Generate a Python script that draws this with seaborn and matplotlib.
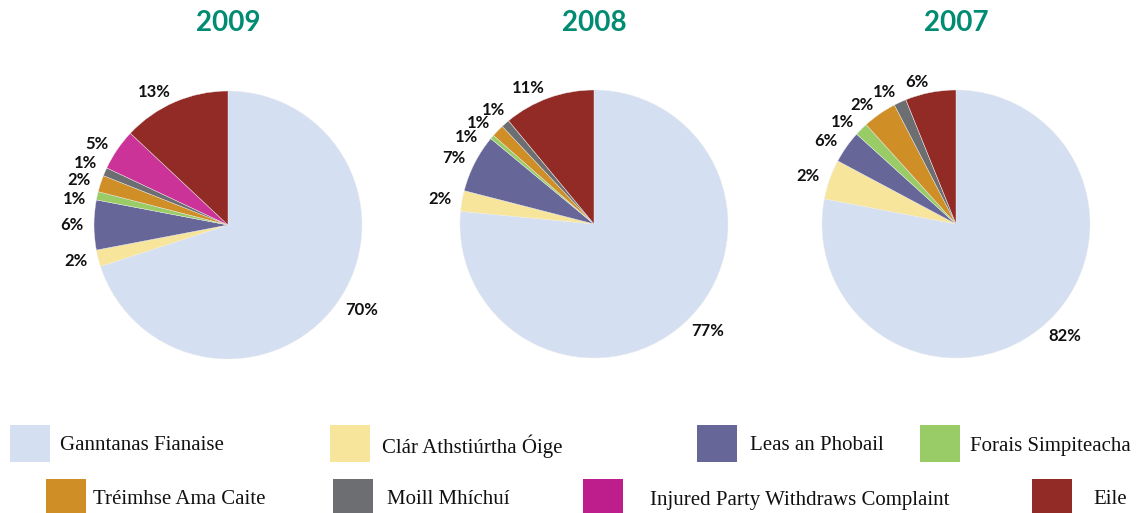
import numpy as np
import matplotlib
matplotlib.use("Agg")
import matplotlib.pyplot as plt
from matplotlib.patches import Rectangle
import seaborn as sns

# categories (legend order = wedge order, clockwise from 12 o'clock)
categories = [
    "Ganntanas Fianaise",
    "Clár Athstiúrtha Óige",
    "Leas an Phobail",
    "Forais Simpiteacha",
    "Tréimhse Ama Caite",
    "Moill Mhíchuí",
    "Injured Party Withdraws Complaint",
    "Eile",
]
years = ["2009", "2008", "2007"]

# wedge shares as drawn in the picture (%)
share_2009 = [70, 2, 6, 1, 2, 1, 5, 13]
share_2008 = [76.5, 2.5, 7, 0.5, 1.5, 1, 0, 11]
share_2007 = [78, 4.8, 3.9, 1.6, 4.1, 1.5, 0, 6.1]

# printed labels
label_2009 = ["70%", "2%", "6%", "1%", "2%", "1%", "5%", "13%"]
label_2008 = ["77%", "2%", "7%", "1%", "1%", "1%", "", "11%"]
label_2007 = ["82%", "2%", "6%", "1%", "2%", "1%", "", "6%"]

shares = [share_2009, share_2008, share_2007]
labels = [label_2009, label_2008, label_2007]

pie_colors = ["#D4DFF1", "#F7E59B", "#666699", "#99CC66",
              "#CF8E26", "#6D6E71", "#CC3399", "#922A25"]
legend_colors = pie_colors[:6] + ["#BE1E8C"] + pie_colors[7:]
title_color = "#008C72"

sns.set_theme(style="white")
plt.rcParams["font.family"] = ["Lato", "DejaVu Sans"]

W, H = 1146, 513
fig = plt.figure(figsize=(W / 100, H / 100), dpi=100)

centers = [(228, 225), (594, 224), (956, 224)]
R = 134


def spread(angles, min_sep=7.5, n_iter=200):
    a = np.array(angles, dtype=float)
    order = np.argsort(a)
    for _ in range(n_iter):
        s = a[order]
        for i in range(len(s) - 1):
            gap = s[i + 1] - s[i]
            if gap < min_sep:
                push = (min_sep - gap) / 2
                s[i] -= push
                s[i + 1] += push
        a[order] = s
    return a


for (cx, cy), year, vals, labs in zip(centers, years, shares, labels):
    ax = fig.add_axes([(cx - R) / W, 1 - (cy + R) / H, 2 * R / W, 2 * R / H])
    ax.pie(vals, colors=pie_colors, startangle=90, counterclock=False,
           radius=1, wedgeprops=dict(linewidth=0.3, edgecolor="#eeeeee"))
    ax.set_xlim(-1, 1)
    ax.set_ylim(-1, 1)
    ax.set_aspect("equal")
    ax.axis("off")

    # label angles from wedge midpoints, spread apart where crowded
    vals = np.array(vals, dtype=float)
    cum = np.cumsum(vals) - vals / 2
    mids = 90 - cum / vals.sum() * 360
    keep = [i for i, t in enumerate(labs) if t]
    angs = spread(mids[keep])
    for i, ang in zip(keep, angs):
        rad = np.deg2rad(ang)
        x, y = 1.08 * np.cos(rad), 1.08 * np.sin(rad)
        ax.text(x, y, labs[i], ha="left" if x > 0 else "right", va="center",
                fontsize=12, fontweight="bold", color="#111111", clip_on=False)

    fig.text(cx / W, 1 - 23 / H, year, ha="center", va="center",
             fontsize=20, fontweight="bold", color=title_color)

# manual legend: two rows of four, irregular spacing as in the report
legend_slots = [
    (10, 60, 443), (330, 382, 443), (697, 750, 443), (920, 970, 443),
    (46, 93, 497), (333, 387, 497), (583, 650, 497), (1032, 1093, 497),
]
pw, ph = 40, 37
for (px, tx, ry), name, col in zip(legend_slots, categories, legend_colors):
    fig.patches.append(Rectangle((px / W, 1 - (ry + ph / 2) / H), pw / W, ph / H,
                                 transform=fig.transFigure, facecolor=col,
                                 edgecolor="none"))
    fig.text(tx / W, 1 - (ry + 3) / H, name, ha="left", va="center",
             fontsize=15, family=["Liberation Serif", "DejaVu Serif"],
             color="#111111")

fig.savefig("out.png", dpi=100)
plt.close(fig)
